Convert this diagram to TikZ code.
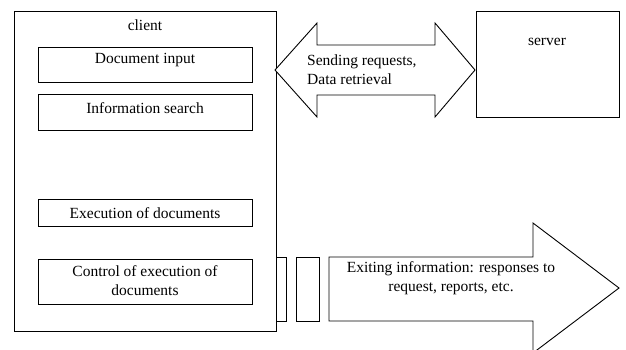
\documentclass[tikz,border=0pt]{standalone}
\usepackage{fontspec}
\setmainfont{Liberation Serif}
\begin{document}
\begin{tikzpicture}[x=1pt,y=-1pt,
  box/.style={draw=black,line width=0.9pt,fill=white},
  lbl/.style={font=\fontsize{15.5}{19}\selectfont,inner sep=0pt,align=center},
  arrowshape/.style={draw=black,line width=0.9pt,fill=white,line join=miter}]
\useasboundingbox (0,0) rectangle (626,349);
% client
\draw[box] (14,11) rectangle (276,331);
\node[lbl] (client) at (145,25) {client};
\draw[box] (38,47) rectangle (252,82);
\node[lbl] (docin) at (145,60) {Document input};
\draw[box] (38,94) rectangle (252,130);
\node[lbl] (search) at (145,108) {Information search};
\draw[box] (38,199) rectangle (252,226);
\node[lbl] (exec) at (145,213) {Execution of documents};
\draw[box] (38,259) rectangle (252,304);
\node[lbl] (ctrl) at (145,281) {Control of execution of\\documents};
% server
\draw[box] (476,11) rectangle (619,117);
\node[lbl] (server) at (547,42) {server};
% double arrow
\draw[arrowshape] (275,70) -- (317,23) -- (317,45) -- (435,45) -- (435,23) -- (475,70)
  -- (435,117) -- (435,95) -- (317,95) -- (317,117) -- cycle;
\node[lbl,align=left,anchor=west] (req) at (307,70) {Sending requests,\\Data retrieval};
% bottom rects
\draw[box] (276,257) rectangle (286,321);
\draw[box] (296,257) rectangle (319,321);
\draw[arrowshape] (329,257) -- (533,257) -- (533,223) -- (619,288) -- (533,353) -- (533,321) -- (329,321) -- cycle;
\node[lbl] (exit) at (451,278) {Exiting information: responses to\\request, reports, etc.};
\end{tikzpicture}
\end{document}
